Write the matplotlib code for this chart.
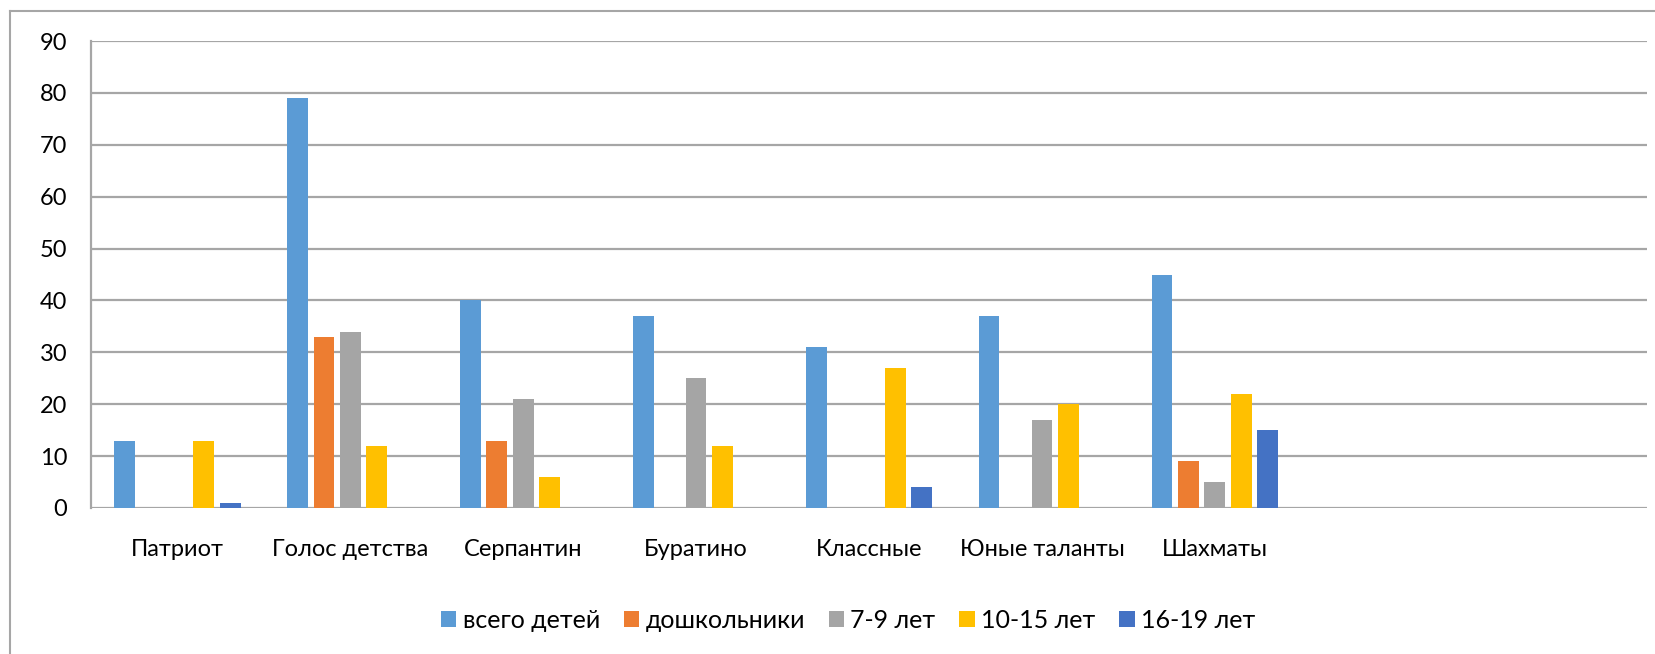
import numpy as np
import matplotlib
matplotlib.use('Agg')
import matplotlib.pyplot as plt
from matplotlib.lines import Line2D

plt.rcParams['font.family'] = ['Lato', 'DejaVu Sans']

# data
clubs = ['Патриот', 'Голос детства', 'Серпантин', 'Буратино', 'Классные',
		 'Юные таланты', 'Шахматы', '', '']
series_names = ['всего детей', 'дошкольники', '7-9 лет', '10-15 лет', '16-19 лет']
total = [13, 79, 40, 37, 31, 37, 45, 0, 0]
preschool = [0, 33, 13, 0, 0, 0, 9, 0, 0]
age_7_9 = [0, 34, 21, 25, 0, 17, 5, 0, 0]
age_10_15 = [13, 12, 6, 12, 27, 20, 22, 0, 0]
age_16_19 = [1, 0, 0, 0, 4, 0, 15, 0, 0]
colors = ['#5B9BD5', '#ED7D31', '#A5A5A5', '#FFC000', '#4472C4']

values = [total, preschool, age_7_9, age_10_15, age_16_19]

W, H = 1656, 654
fig = plt.figure(figsize=(W / 100, H / 100), dpi=100)
ax = fig.add_axes([91 / W, 1 - 508 / H, (1647 - 91) / W, (508 - 41) / H])

x = np.arange(len(clubs))
slot = 26.4 / 172.9
bw = 20.7 / 172.9
for k, (vals, name, c) in enumerate(zip(values, series_names, colors)):
	off = (k - 2) * slot
	ax.bar(x + off, vals, width=bw, color=c, label=name, zorder=3)

ax.set_xlim(-0.5, len(clubs) - 0.5)
ax.set_ylim(0, 90)
ax.set_yticks(range(0, 91, 10))
ax.set_xticks(x)
ax.set_xticklabels(clubs)
ax.yaxis.grid(True, color='#A6A6A6', linewidth=1.6, zorder=0)
ax.set_axisbelow(True)
for s in ['top', 'right', 'bottom']:
	ax.spines[s].set_visible(False)
ax.spines['left'].set_color('#A6A6A6')
ax.spines['left'].set_linewidth(1.6)
ax.tick_params(axis='both', length=0, labelsize=17, colors='black')
ax.tick_params(axis='x', pad=22)
ax.tick_params(axis='y', pad=17)

fig.legend(loc='center', bbox_to_anchor=(848 / W, 1 - 620 / H), ncol=5,
		   frameon=False, fontsize=18, handlelength=0.62, handleheight=0.62,
		   columnspacing=0.95, handletextpad=0.25)

# outer chart frame (cropped on the right and bottom)
fig.add_artist(Line2D([10 / W, 10 / W], [0, 1 - 11 / H], color='#A6A6A6', lw=1.5))
fig.add_artist(Line2D([10 / W, 1], [1 - 11 / H, 1 - 11 / H], color='#A6A6A6', lw=1.5))

fig.savefig('out.png', dpi=100)
